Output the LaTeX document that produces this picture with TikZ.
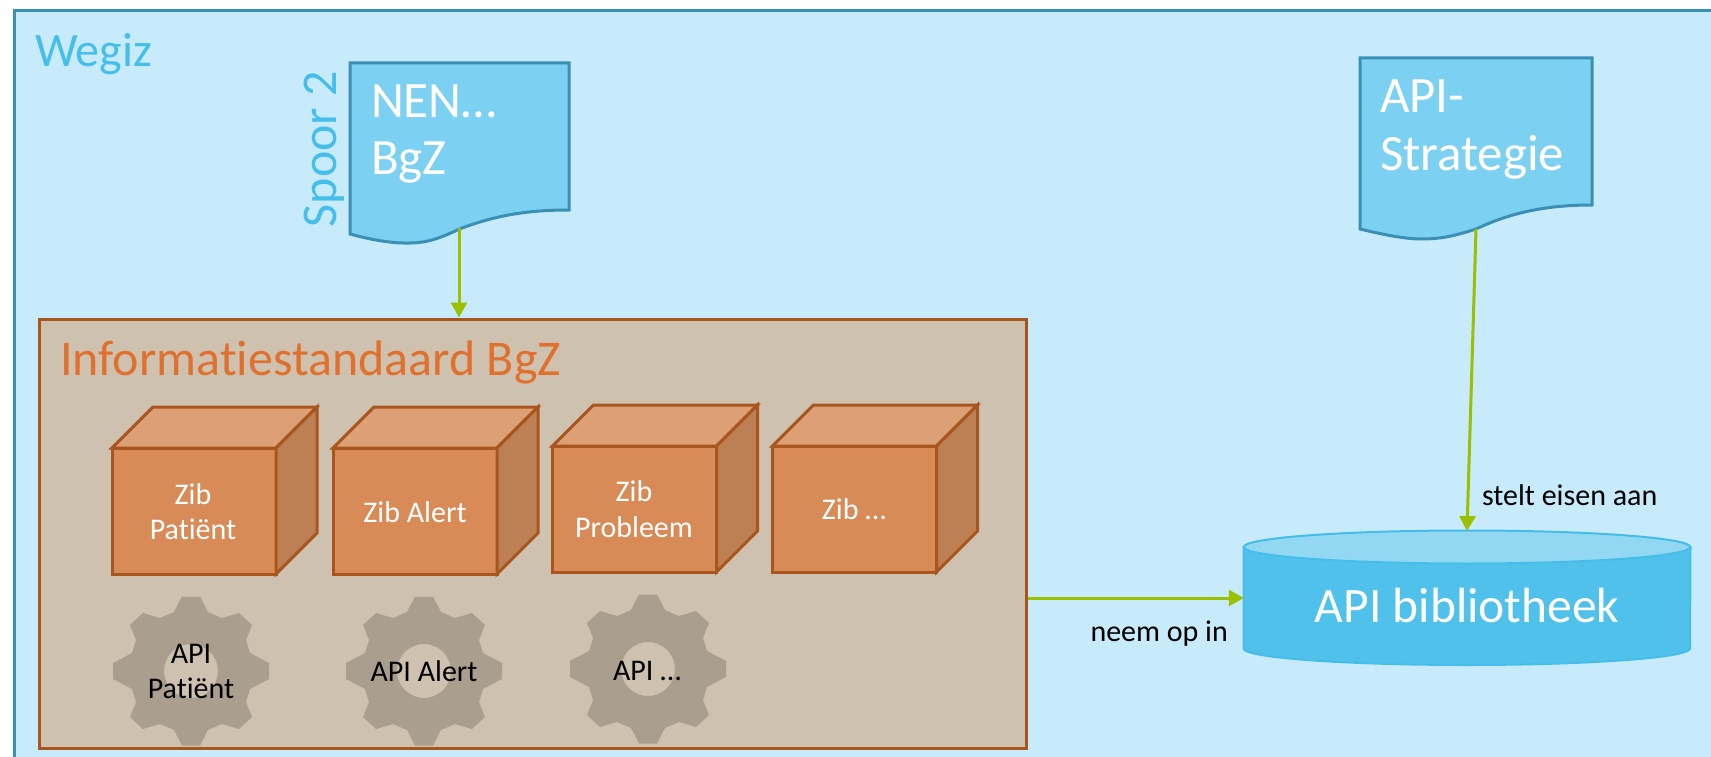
\documentclass[tikz,border=0pt]{standalone}
\usepackage{fontspec}
\setmainfont{Carlito}[Ligatures=NoCommon]
\usetikzlibrary{arrows.meta}
\definecolor{framefill}{HTML}{C7EBFB}
\definecolor{framedraw}{HTML}{3A8FB5}
\definecolor{docfill}{HTML}{7CD0F1}
\definecolor{skytext}{HTML}{45BEEC}
\definecolor{boxfill}{HTML}{CFC1B0}
\definecolor{rust}{HTML}{A9561E}
\definecolor{orangetext}{HTML}{E0702C}
\definecolor{cubefront}{HTML}{D88B57}
\definecolor{cubetop}{HTML}{DD9F76}
\definecolor{cubeside}{HTML}{BD7F54}
\definecolor{gearfill}{HTML}{AA9E8F}
\definecolor{cylfill}{HTML}{50C1EB}
\definecolor{cyltop}{HTML}{93D8F3}
\definecolor{cyldraw}{HTML}{45BDEA}
\definecolor{linkgreen}{HTML}{9CBF00}
\newcommand{\fs}[1]{\fontsize{#1}{#1}\selectfont}
\tikzset{
  x=1pt,y=-1pt,
  ghost/.style={inner sep=0,outer sep=0,minimum width=#1},
  lbl/.style={inner sep=0,outer sep=0,anchor=base,align=center},
  lbll/.style={inner sep=0,outer sep=0,anchor=base west},
  whitelab/.style={lbl,text=white,font=\fontsize{30}{35}\selectfont},
  blacklab/.style={lbl,text=black,font=\fontsize{30}{35}\selectfont},
  doctext/.style={lbll,text=white,align=left,font=\fontsize{51}{57.5}\selectfont},
  link/.style={draw=linkgreen,line width=3pt,-{Triangle[length=15pt,width=16pt]}},
  docshape/.style={fill=docfill,draw=framedraw,line width=3pt,line join=miter},
  cubeline/.style={draw=rust,line width=3pt,line join=miter},
  pics/cube/.style={code={
    \path[cubeline,fill=cubefront] (0,0) rectangle (164,126);
    \path[cubeline,fill=cubetop] (0,0) -- (41,-41) -- (205,-41) -- (164,0) -- cycle;
    \path[cubeline,fill=cubeside] (164,0) -- (205,-41) -- (205,85) -- (164,126) -- cycle;
  }},
  pics/gear/.style={code={
    \fill[gearfill,even odd rule]
      (-9,-74.5) -- (9,-74.5) -- (17,-59) -- (31,-53) -- (48,-58) -- (61,-46) -- (55,-31) -- (59,-18)
      -- (78,-8) -- (78,8) -- (59,18) -- (55,31) -- (61,46) -- (48,58) -- (31,53) -- (17,59)
      -- (9,74.5) -- (-9,74.5) -- (-17,59) -- (-31,53) -- (-48,58) -- (-61,46) -- (-55,31) -- (-59,18)
      -- (-78,8) -- (-78,-8) -- (-59,-18) -- (-55,-31) -- (-61,-46) -- (-48,-58) -- (-31,-53) -- (-17,-59) -- cycle
      (0,0) circle[radius=27pt];
  }},
}
\begin{document}
\begin{tikzpicture}
\useasboundingbox (0,0) rectangle (1711,757);
\fill[white] (0,0) rectangle (1711,757);
% frame runs off the right and bottom edges
\path[fill=framefill,draw=framedraw,line width=3pt] (14.5,11) rectangle (1725,770);
\node[lbll,text=skytext,font=\fs{48}] (wegiz) at (35,66.5) {Wegiz};
% documents
\path[docshape] (350,63) -- (569,63) -- (569,210) .. controls (525,210) and (495,216) .. (462,228)
  .. controls (448,234) and (432,243) .. (410,243) .. controls (392,243.5) and (372,240) .. (350,234) -- cycle;
\node[ghost=219pt,minimum height=180pt] (docA) at (459.5,153) {};
\coordinate (docAout) at (459,228);
\node[doctext] (docAtext) at (371,117.5) {NEN…};
\node[doctext] (docAtextb) at (371,175) {BgZ};
\node[lbl,rotate=90,text=skytext,font=\fs{50},anchor=base] (spoor) at (336,149) {Spoor 2};
\path[docshape] (1360,58) -- (1592,58) -- (1592,205) .. controls (1545,205) and (1510,213) .. (1476,229)
  .. controls (1460,234) and (1445,239) .. (1422,239) .. controls (1405,239) and (1385,235) .. (1360,229) -- cycle;
\node[ghost=232pt,minimum height=181pt] (docB) at (1476,148.5) {};
\coordinate (docBout) at (1476,229);
\node[doctext] (docBtext) at (1380,113) {API-};
\node[doctext] (docBtextb) at (1380,171) {Strategie};
% information standard
\node[draw=rust,fill=boxfill,line width=3pt,inner sep=0,minimum width=987pt,minimum height=429pt] (box) at (532.5,533.5) {};
\node[lbll,text=orangetext,font=\fs{50}] (boxtitle) at (60,375) {Informatiestandaard BgZ};
\pic at (112,448) {cube};
\pic at (333,448) {cube};
\pic at (552.5,446) {cube};
\pic at (772.5,446) {cube};
\node[whitelab] (zibA) at (193,504) {Zib};
\node[whitelab] (zibAb) at (193,539) {Patiënt};
\node[whitelab] (zibB) at (415,522) {Zib Alert};
\node[whitelab] (zibC) at (634,501) {Zib};
\node[whitelab] (zibCb) at (634,537) {Probleem};
\node[whitelab] (zibD) at (854,519) {Zib …};
\pic at (191,671) {gear};
\pic at (424,671) {gear};
\pic at (648,669) {gear};
\node[blacklab] (apiA) at (191,663) {API};
\node[blacklab] (apiAb) at (191,698) {Patiënt};
\node[blacklab] (apiB) at (424,681) {API Alert};
\node[blacklab] (apiC) at (647,680) {API …};
% library
\node[ghost=446.5pt,minimum height=134pt] (cyl) at (1467,598) {};
\path[fill=cylfill,draw=cyldraw,line width=2pt] (1243.5,547) -- (1243.5,648.5)
  arc[start angle=180,end angle=360,x radius=223.25pt,y radius=16.5pt] -- (1690.5,547) -- cycle;
\path[fill=cyltop,draw=cyldraw,line width=2pt] (1467,547) ellipse[x radius=223.25pt,y radius=16.5pt];
\node[lbl,text=white,font=\fs{49.5}] (cyltext) at (1467,622.5) {API bibliotheek};
% connectors
\draw[link] (docAout) -- (docAout |- box.north);
\draw[link] (docBout) -- (cyl.north);
\draw[link] (box.east |- cyl.west) -- (cyl.west);
\node[lbll,font=\fs{30}] (eisen) at (1482,505.5) {stelt eisen aan};
\node[lbll,font=\fs{30}] (neem) at (1090.5,641) {neem op in};
\end{tikzpicture}
\end{document}
